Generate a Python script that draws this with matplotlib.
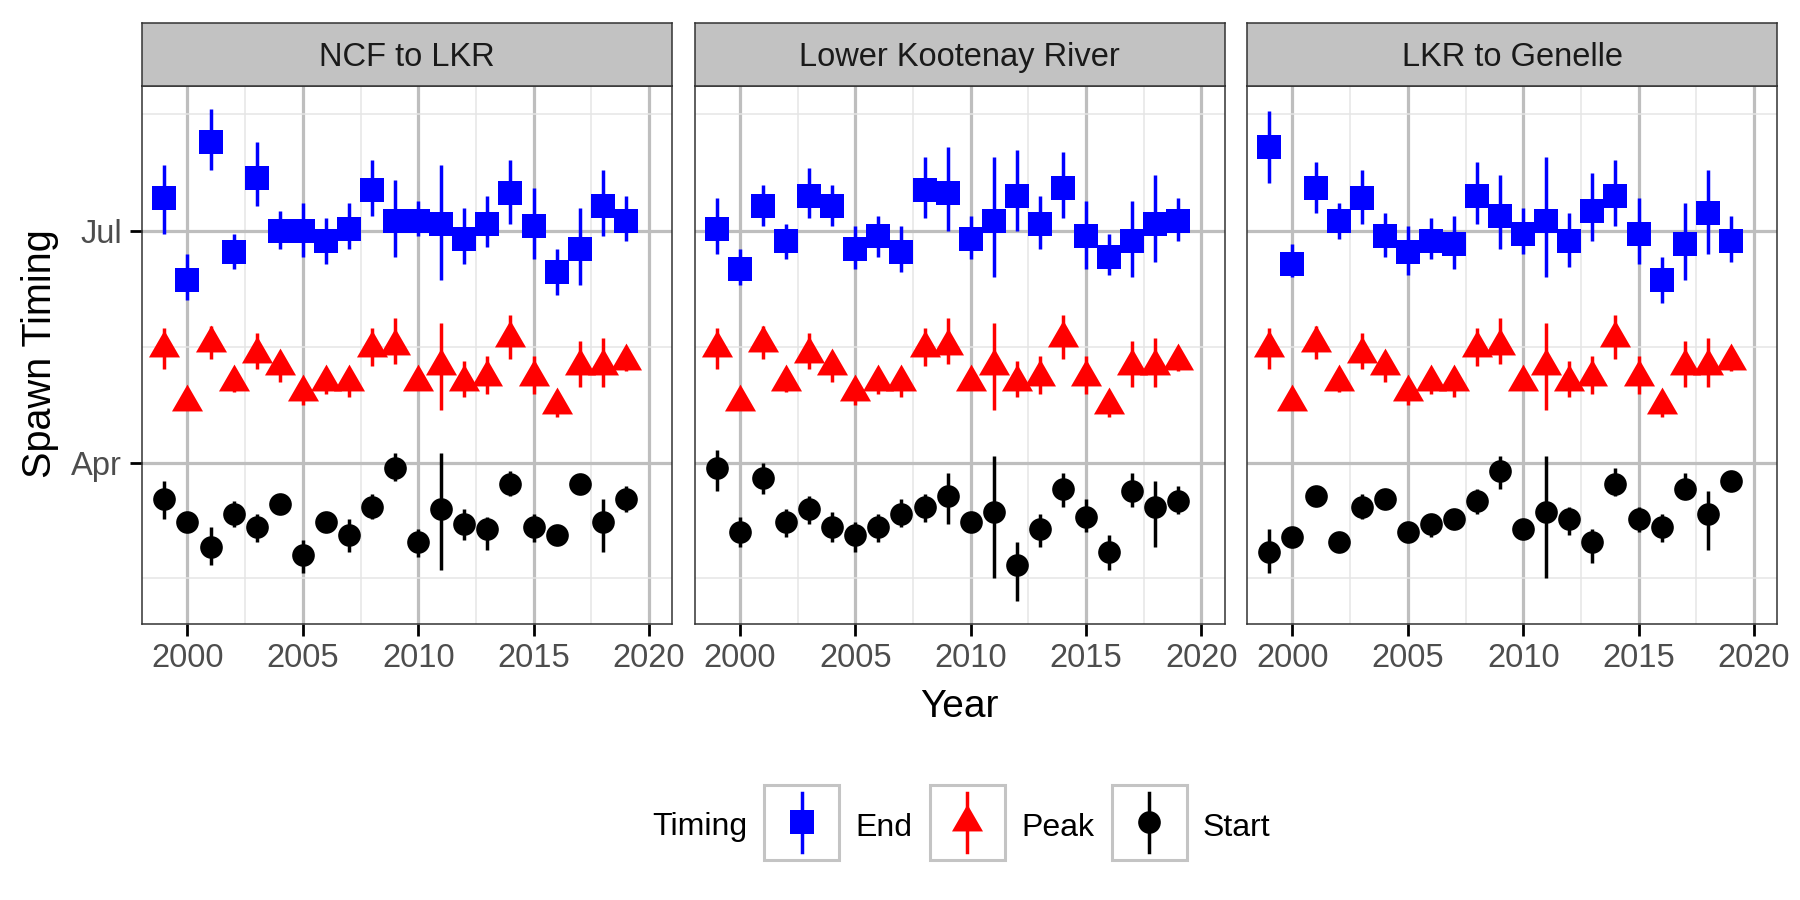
import datetime as dt
import matplotlib
matplotlib.use("Agg")
import matplotlib.pyplot as plt
from matplotlib.lines import Line2D
from matplotlib.patches import Rectangle
from matplotlib.path import Path
from matplotlib.legend_handler import HandlerBase

plt.rcParams["font.family"] = ["Liberation Sans", "DejaVu Sans"]

# ---------------- data (day of year, non-leap year) ----------------
years = list(range(1999, 2020))
panels = ["NCF to LKR", "Lower Kootenay River", "LKR to Genelle"]

# Peak timing (same in all three panels)
peak = [136, 115, 138, 123, 134, 129, 119, 123, 123, 136, 137, 123, 129, 123, 125, 140, 125, 114, 129, 129, 131]
peak_lo = [128, 113, 132, 119, 128, 123, 114, 118, 117, 129, 130, 120, 112, 117, 118, 132, 118, 109, 121, 121, 127]
peak_hi = [144, 117, 145, 126, 142, 134, 123, 126, 127, 144, 148, 127, 146, 131, 133, 149, 133, 118, 139, 140, 134]

# NCF to LKR
end1 = [195, 163, 217, 174, 203, 182, 182, 178, 183, 198, 186, 186, 185, 179, 185, 197, 184, 166, 175, 192, 186]
end1_lo = [181, 155, 206, 167, 192, 175, 172, 169, 175, 188, 172, 180, 163, 169, 176, 185, 171, 157, 161, 180, 178]
end1_hi = [208, 173, 230, 181, 217, 190, 193, 187, 193, 210, 202, 194, 208, 191, 196, 210, 199, 175, 191, 206, 196]
start1 = [77, 68, 58, 71, 66, 75, 55, 68, 63, 74, 89, 60, 73, 67, 65, 83, 66, 63, 83, 68, 77]
start1_lo = [69, 65, 51, 66, 60, 72, 48, 65, 56, 69, 84, 54, 49, 61, 57, 78, 60, 60, 80, 56, 72]
start1_hi = [84, 71, 66, 76, 71, 78, 61, 71, 69, 79, 95, 65, 95, 73, 70, 88, 71, 66, 86, 77, 82]

# Lower Kootenay River
end2 = [183, 167, 192, 178, 196, 192, 175, 180, 174, 198, 197, 179, 186, 196, 185, 199, 180, 172, 178, 185, 186]
end2_lo = [173, 161, 184, 171, 187, 184, 167, 172, 166, 187, 182, 171, 164, 182, 175, 187, 167, 165, 164, 170, 178]
end2_hi = [195, 175, 200, 185, 207, 200, 184, 188, 184, 211, 215, 188, 211, 214, 196, 213, 194, 181, 194, 204, 195]
start2 = [89, 64, 85, 68, 73, 66, 63, 66, 71, 74, 78, 68, 72, 51, 65, 81, 70, 56, 80, 74, 76]
start2_lo = [80, 58, 79, 62, 67, 60, 56, 60, 66, 68, 67, 65, 46, 37, 58, 74, 64, 49, 74, 58, 71]
start2_hi = [96, 70, 91, 73, 78, 72, 68, 71, 77, 79, 87, 71, 94, 60, 71, 87, 77, 63, 87, 84, 82]

# LKR to Genelle
end3 = [215, 169, 199, 186, 195, 180, 174, 178, 177, 196, 188, 181, 186, 178, 190, 196, 181, 163, 177, 189, 178]
end3_lo = [201, 164, 189, 179, 185, 172, 165, 171, 167, 185, 175, 173, 164, 168, 178, 184, 169, 154, 163, 173, 170]
end3_hi = [229, 177, 209, 193, 206, 189, 184, 187, 188, 209, 204, 191, 211, 189, 205, 210, 195, 172, 193, 206, 188]
start3 = [56, 62, 78, 60, 74, 77, 64, 67, 69, 76, 88, 65, 72, 69, 60, 83, 69, 66, 81, 71, 84]
start3_lo = [48, 60, 75, 58, 69, 75, 62, 62, 67, 71, 81, 63, 46, 63, 52, 78, 64, 60, 77, 57, 82]
start3_hi = [65, 64, 81, 62, 79, 79, 66, 71, 71, 81, 94, 67, 94, 74, 65, 89, 74, 71, 87, 80, 86]

timing_labels = ["End", "Peak", "Start"]
timing_colors = ["#0000FF", "#FF0000", "#000000"]

panel_data = [
    {"End": (end1, end1_lo, end1_hi), "Peak": (peak, peak_lo, peak_hi), "Start": (start1, start1_lo, start1_hi)},
    {"End": (end2, end2_lo, end2_hi), "Peak": (peak, peak_lo, peak_hi), "Start": (start2, start2_lo, start2_hi)},
    {"End": (end3, end3_lo, end3_hi), "Peak": (peak, peak_lo, peak_hi), "Start": (start3, start3_lo, start3_hi)},
]

# ---------------- styles ----------------
tri = Path([(0, 1), (-0.8660254, -0.5), (0.8660254, -0.5), (0, 1)],
           [Path.MOVETO, Path.LINETO, Path.LINETO, Path.CLOSEPOLY])
markers = {"End": ("s", 16.6), "Peak": (tri, 25.8), "Start": ("o", 16.3)}
err_lw = 2.5

W, H = 1800, 900
fig = plt.figure(figsize=(18, 9), dpi=100)

pl, pw, gap = 142 / W, 530 / W, 22.5 / W
pb, pt_ = 1 - 623.5 / H, 1 - 85.7 / H
strip_h = (85.7 - 23) / H

def doy(month, day):
    return dt.date(2001, month, day).timetuple().tm_yday

major_y = [doy(1, 1), doy(4, 1), doy(7, 1), doy(10, 1)]
major_ylab = [dt.date(2001, m, 1).strftime("%b") for m in (1, 4, 7, 10)]
minor_y = [(a + b) / 2 for a, b in zip(major_y[:-1], major_y[1:])]
major_x = [2000, 2005, 2010, 2015, 2020]
minor_x = [2002.5, 2007.5, 2012.5, 2017.5]

for i, name in enumerate(panels):
    x0 = pl + i * (pw + gap)
    ax = fig.add_axes([x0, pb, pw, pt_ - pb])
    sax = fig.add_axes([x0, pt_, pw, strip_h])
    sax.set_facecolor("#C2C2C2")
    sax.set_xticks([]); sax.set_yticks([])
    for s in sax.spines.values():
        s.set_color("#333333"); s.set_linewidth(1.1)
    sax.text(0.5, 0.5, name, ha="center", va="center_baseline", fontsize=23.5,
             color="#1A1A1A", transform=sax.transAxes)

    d = panel_data[i]
    for lab, col in zip(timing_labels, timing_colors):
        v, lo, hi = d[lab]
        ax.vlines(years, lo, hi, colors=col, lw=err_lw, zorder=2)
    for lab, col in zip(timing_labels, timing_colors):
        v, lo, hi = d[lab]
        mk, ms = markers[lab]
        ax.plot(years, v, ls="none", marker=mk, ms=ms, color=col, mew=0, zorder=3)

    ax.set_xticks(major_x)
    ax.set_xticks(minor_x, minor=True)
    ax.set_yticks(major_y)
    ax.set_yticks(minor_y, minor=True)
    ax.set_yticklabels(major_ylab)
    ax.set_xticklabels([str(x) for x in major_x])
    ax.set_xlim(1998.03, 2021.0)
    ax.set_ylim(28.1, 239.1)
    ax.set_axisbelow(True)
    ax.grid(which="major", color="#BEBEBE", lw=2.3)
    ax.grid(which="minor", color="#E5E5E5", lw=1.1)
    ax.tick_params(which="major", length=8.3, width=2.0, color="black",
                   labelsize=23.5, labelcolor="#4D4D4D", pad=6)
    ax.tick_params(which="minor", length=0)
    if i > 0:
        ax.tick_params(axis="y", which="major", length=0, labelleft=False)
    for s in ax.spines.values():
        s.set_color("#333333"); s.set_linewidth(1.1)

fig.text(40 / W, 1 - 354 / H, "Spawn Timing", rotation=90, ha="center", va="center", fontsize=28.5)
fig.text(959.5 / W, 1 - 717 / H, "Year", ha="center", va="baseline", fontsize=28)

# ---------------- legend ----------------
class PointRangeKey(HandlerBase):
    def create_artists(self, legend, orig_handle, xdescent, ydescent, width, height, fontsize, trans):
        side = 2.35 * fontsize
        cx = -xdescent + width / 2
        cy = 0.423 * fontsize
        box = Rectangle((cx - side / 2, cy - side / 2), side, side, facecolor="white",
                        edgecolor="#C4C4C4", lw=2.2, transform=trans)
        seg = Line2D([cx, cx], [cy - 0.39 * side, cy + 0.39 * side], color=orig_handle.get_color(),
                     lw=orig_handle.get_linewidth(), transform=trans)
        pt = Line2D([cx], [cy], ls="none", marker=orig_handle.get_marker(),
                    ms=orig_handle.get_markersize(), color=orig_handle.get_color(), mew=0, transform=trans)
        return [box, seg, pt]

handles = [Line2D([], [], color=c, lw=err_lw, marker=markers[l][0], ms=markers[l][1])
           for l, c in zip(timing_labels, timing_colors)]
fig.legend(handles, timing_labels, loc="center left", bbox_to_anchor=(764 / W, 1 - 826 / H),
           ncol=3, frameon=False, fontsize=23, handlelength=2.35, handleheight=2.35,
           handletextpad=0.5, columnspacing=0.56, borderpad=0, borderaxespad=0,
           handler_map={Line2D: PointRangeKey()})
fig.text(652 / W, 1 - 835 / H, "Timing", ha="left", va="baseline", fontsize=23)

fig.savefig("out.png", dpi=100, facecolor="white")
